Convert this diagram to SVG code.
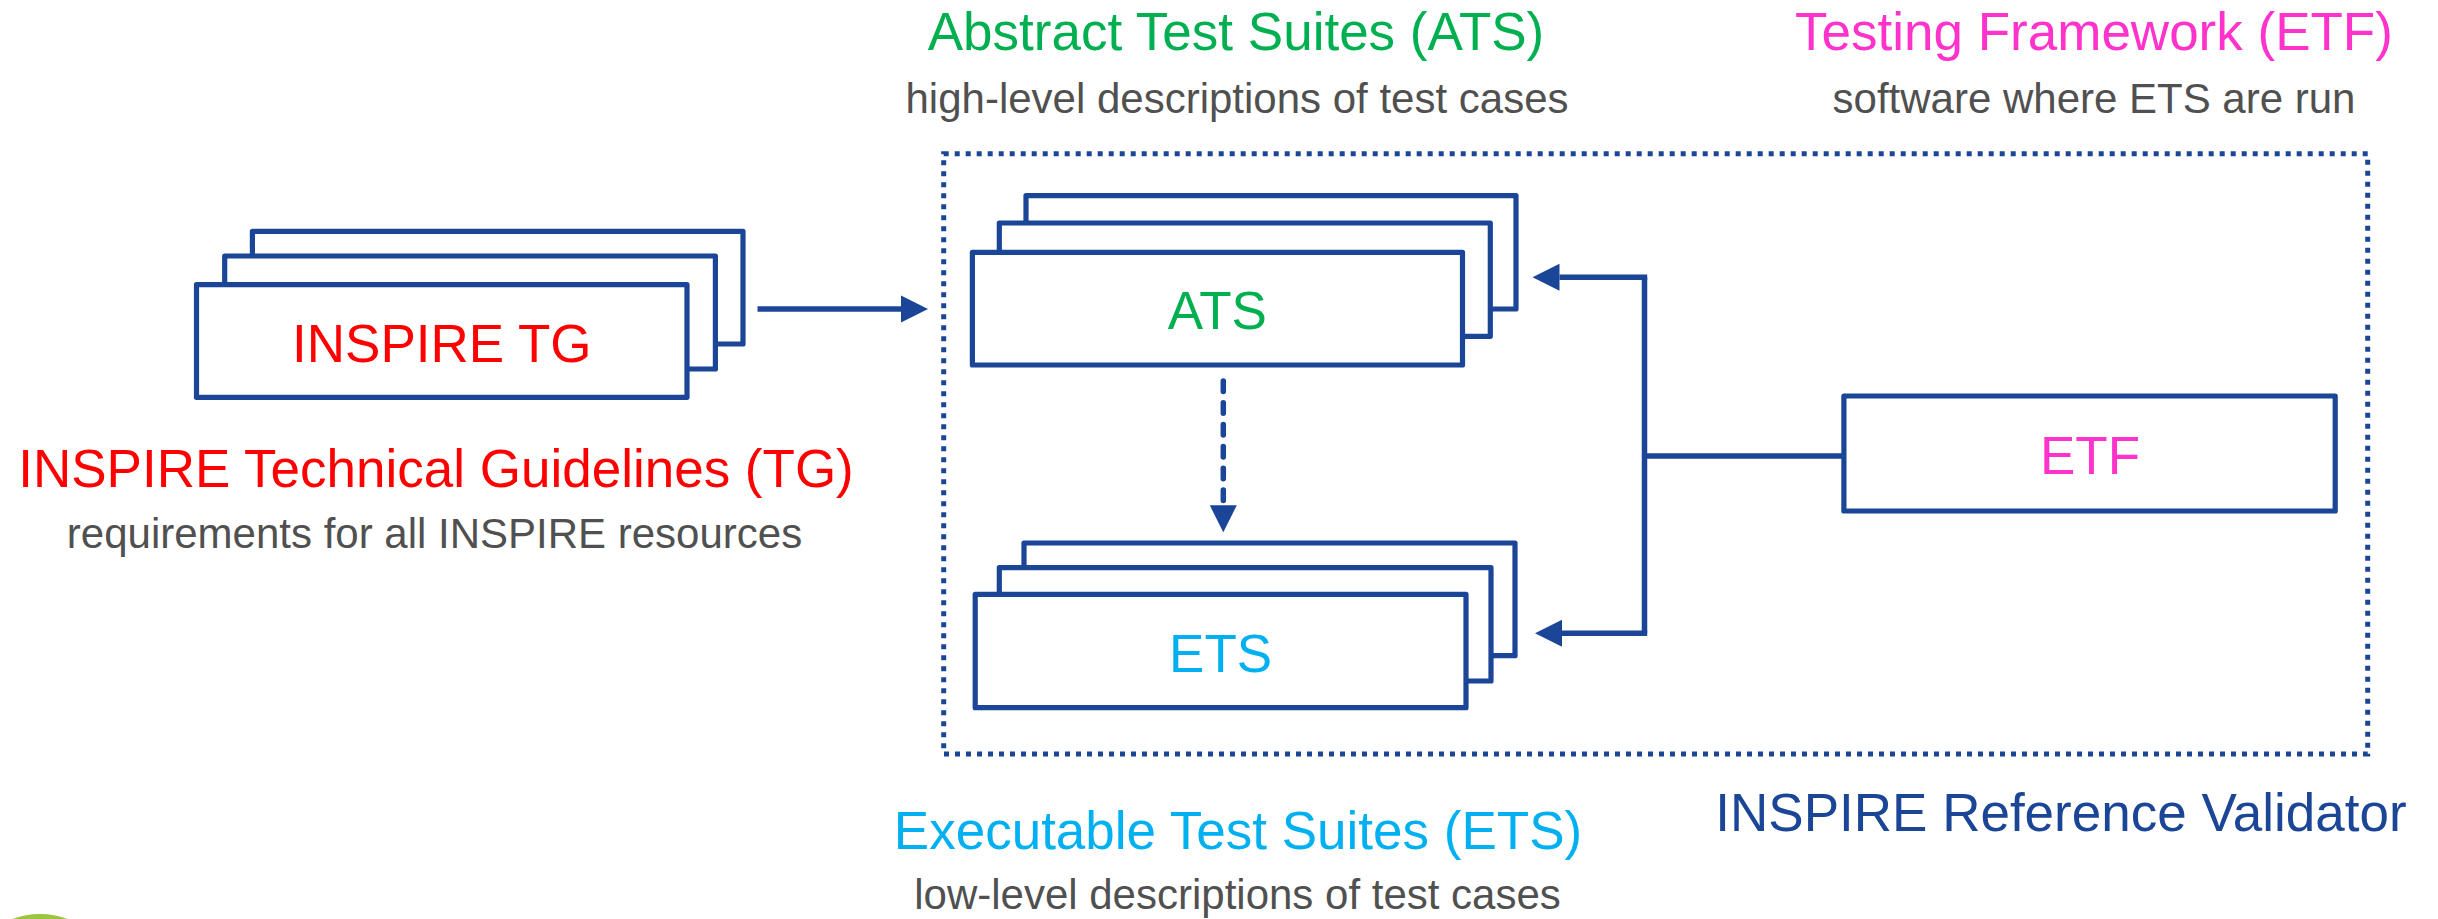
<svg xmlns="http://www.w3.org/2000/svg" width="2438" height="919" viewBox="0 0 2438 919">
<style>
.box{fill:#fff;stroke:#1B4596;stroke-width:5.2;stroke-linejoin:round}
.t{font-family:"Liberation Sans",Arial,sans-serif;text-anchor:middle}
.title{font-size:53px}
.sub{font-size:42px;fill:#505050}
.lbl{font-size:53px}
.conn{fill:none;stroke:#1B4596;stroke-width:5.5}
</style>
<defs>
<marker id="ah" markerUnits="userSpaceOnUse" viewBox="0 -14 27 28" refX="0" refY="0" markerWidth="27" markerHeight="28" orient="auto">
<path d="M0,-13.5 L27,0 L0,13.5 z" fill="#1B4596"/>
</marker>
</defs>
<rect width="2438" height="919" fill="#fff"/>
<circle cx="40" cy="992" r="78" fill="#9BC53D"/>

<g id="validator">
<rect x="943.7" y="153.7" width="1424" height="600.3" fill="none" stroke="#1B4596" stroke-width="5" stroke-dasharray="5 6"/>
<text class="t title" x="2061" y="831" fill="#1B4596">INSPIRE Reference Validator</text>
</g>

<g id="node-tg">
<rect class="box" x="252.4" y="231.3" width="490.6" height="112.7"/>
<rect class="box" x="224.7" y="256" width="490.7" height="113"/>
<rect class="box" x="196.5" y="284.7" width="490.5" height="112.6"/>
<text class="t lbl" x="441.8" y="362" fill="#FF0000">INSPIRE TG</text>
<text class="t title" x="436" y="486.7" fill="#FF0000">INSPIRE Technical Guidelines (TG)</text>
<text class="t sub" x="434.5" y="548.3">requirements for all INSPIRE resources</text>
</g>

<g id="node-ats">
<rect class="box" x="1026" y="195.7" width="490" height="113.3"/>
<rect class="box" x="999.3" y="223" width="491" height="113.3"/>
<rect class="box" x="972.4" y="252.3" width="490.1" height="112.7"/>
<text class="t lbl" x="1217.4" y="329.3" fill="#00B050">ATS</text>
<text class="t title" x="1236" y="50" fill="#00B050">Abstract Test Suites (ATS)</text>
<text class="t sub" x="1237" y="112.7">high-level descriptions of test cases</text>
</g>

<g id="node-ets">
<rect class="box" x="1024" y="543" width="491" height="112.7"/>
<rect class="box" x="999.3" y="567.7" width="491.7" height="113.3"/>
<rect class="box" x="975.2" y="594.3" width="490.8" height="113.4"/>
<text class="t lbl" x="1220.6" y="672" fill="#00B0F0">ETS</text>
<text class="t title" x="1238" y="848.7" fill="#00B0F0">Executable Test Suites (ETS)</text>
<text class="t sub" x="1237.5" y="909.3">low-level descriptions of test cases</text>
</g>

<g id="node-etf">
<rect class="box" x="1843.9" y="396" width="491.3" height="115"/>
<text class="t lbl" x="2090" y="474" fill="#FF33CC">ETF</text>
<text class="t title" x="2094" y="50" fill="#FF33CC">Testing Framework (ETF)</text>
<text class="t sub" x="2094" y="112.7">software where ETS are run</text>
</g>

<g id="connectors">
<path class="conn" d="M757.5,309 H901" marker-end="url(#ah)"/>
<path class="conn" d="M1223.3,381 V505.3" stroke-width="4.5" stroke-linecap="round" stroke-dasharray="10.5 11.3" marker-end="url(#ah)"/>
<path class="conn" d="M1644.5,456 H1844"/>
<path class="conn" d="M1644.5,633.3 V277.3"/>
<path class="conn" d="M1647.2,277.3 H1559.5" marker-end="url(#ah)"/>
<path class="conn" d="M1647.2,633.3 H1562" marker-end="url(#ah)"/>
</g>
</svg>
